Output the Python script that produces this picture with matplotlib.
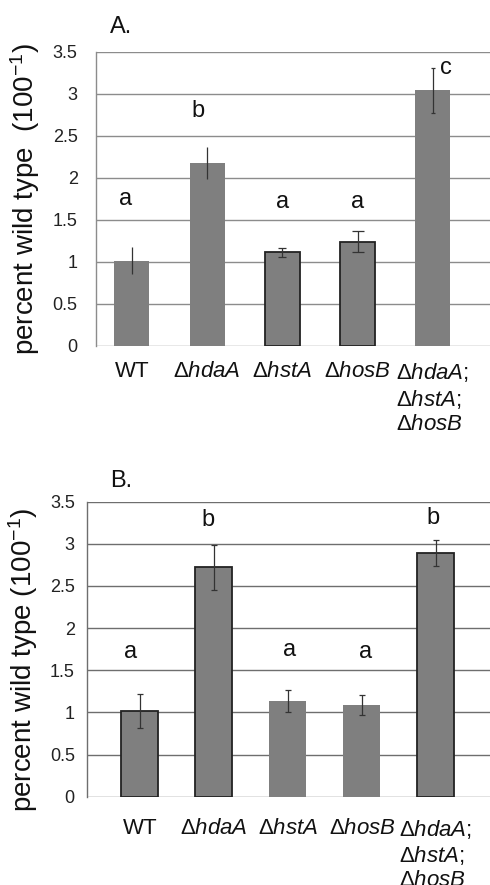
import matplotlib
matplotlib.use("Agg")
import matplotlib.pyplot as plt
import numpy as np

plt.rcParams['font.family'] = ['Liberation Sans', 'DejaVu Sans']
plt.rcParams['mathtext.fontset'] = 'custom'
plt.rcParams['mathtext.rm'] = 'Liberation Sans'
plt.rcParams['mathtext.it'] = 'Liberation Sans:italic'
plt.rcParams['mathtext.bf'] = 'Liberation Sans:bold'

categories = ['WT', r'$\Delta\mathit{hdaA}$', r'$\Delta\mathit{hstA}$', r'$\Delta\mathit{hosB}$',
              '$\\Delta\\mathit{hdaA;}$\n$\\Delta\\mathit{hstA;}$\n$\\Delta\\mathit{hosB}$']

values_a = [1.01, 2.18, 1.11, 1.24, 3.04]
errors_a = [0.16, 0.19, 0.05, 0.12, 0.27]
letters_a = ['a', 'b', 'a', 'a', 'c']

values_b = [1.02, 2.72, 1.14, 1.09, 2.89]
errors_b = [0.20, 0.27, 0.13, 0.115, 0.155]
letters_b = ['a', 'b', 'a', 'a', 'b']

yticks = [0, 0.5, 1, 1.5, 2, 2.5, 3, 3.5]
ytick_labels = ['0', '0.5', '1', '1.5', '2', '2.5', '3', '3.5']

ylabel_a = 'percent wild type  (100$^{-1}$)'
ylabel_b = 'percent wild type (100$^{-1}$)'

W, H = 490, 885
fig = plt.figure(figsize=(W / 100, H / 100), dpi=100)

bar_color = '#7f7f7f'


def panel(rect, values, errors, letters, title, ylabel, xlim, width, edges, caps,
          letter_dx, letter_y, tickpad, labelpad_y, title_xy, ylabel_xy, grid_color):
    ax = fig.add_axes(rect)
    x = np.arange(len(values))
    ax.set_xlim(*xlim)
    ax.set_ylim(0, 3.5)
    for yv in yticks:
        ax.axhline(yv, color=grid_color, lw=1.0, zorder=0)
    for i, (v, e) in enumerate(zip(values, errors)):
        ax.bar(x[i], v, width=width, color=bar_color,
               edgecolor='#222222' if edges[i] else bar_color,
               linewidth=1.3 if edges[i] else 0, zorder=2)
        ax.errorbar(x[i], v, yerr=e, fmt='none', ecolor='#333333',
                    elinewidth=0.9, capsize=caps[i], capthick=0.9, zorder=3)
    for i, l in enumerate(letters):
        ax.text(x[i] + letter_dx[i], letter_y[i], l, ha='center', va='center',
                fontsize=17, color='#111111')
    for s in ['top', 'right', 'bottom']:
        ax.spines[s].set_visible(False)
    ax.spines['left'].set_color(grid_color)
    ax.spines['left'].set_linewidth(1.0)
    ax.set_yticks(yticks)
    ax.set_yticklabels(ytick_labels, fontsize=13, color='#222222')
    ax.tick_params(axis='y', length=0, pad=labelpad_y)
    ax.set_xticks(x)
    ax.set_xticklabels(categories, fontsize=16, color='#111111', va='top',
                       multialignment='left')
    ax.tick_params(axis='x', length=0, pad=tickpad)
    ax.set_ylabel(ylabel, fontsize=20, color='#111111')
    ax.yaxis.set_label_coords(*ylabel_xy)
    fig.text(title_xy[0] / W, 1 - title_xy[1] / H, title, fontsize=17,
             ha='left', va='center', color='#111111')
    return ax


# Panel A
panel([95.7 / W, 1 - 345.7 / H, 1 - 95.7 / W, (345.7 - 51.7) / H],
      values_a, errors_a, letters_a, 'A.', ylabel_a,
      xlim=(-0.48, 4.76), width=0.465,
      edges=[False, False, True, True, False],
      caps=[0, 0, 3, 4, 1.5],
      letter_dx=[-0.08, -0.12, 0, 0, 0.18],
      letter_y=[1.75, 2.79, 1.71, 1.71, 3.30],
      tickpad=11, labelpad_y=13, title_xy=(110, 27), ylabel_xy=(-0.136, 0.5),
      grid_color='#8c8c8c')

# Panel B
panel([87.3 / W, 1 - 796.7 / H, 1 - 87.3 / W, (796.7 - 501.7) / H],
      values_b, errors_b, letters_b, 'B.', ylabel_b,
      xlim=(-0.71, 4.73), width=0.5,
      edges=[True, True, False, False, True],
      caps=[2, 2, 2, 2, 2],
      letter_dx=[-0.12, -0.08, 0.02, 0.05, -0.04],
      letter_y=[1.72, 3.28, 1.74, 1.72, 3.31],
      tickpad=15, labelpad_y=9, title_xy=(110, 481), ylabel_xy=(-0.117, 0.463),
      grid_color='#6e6e6e')

fig.savefig('out.png', dpi=100, facecolor='white')
